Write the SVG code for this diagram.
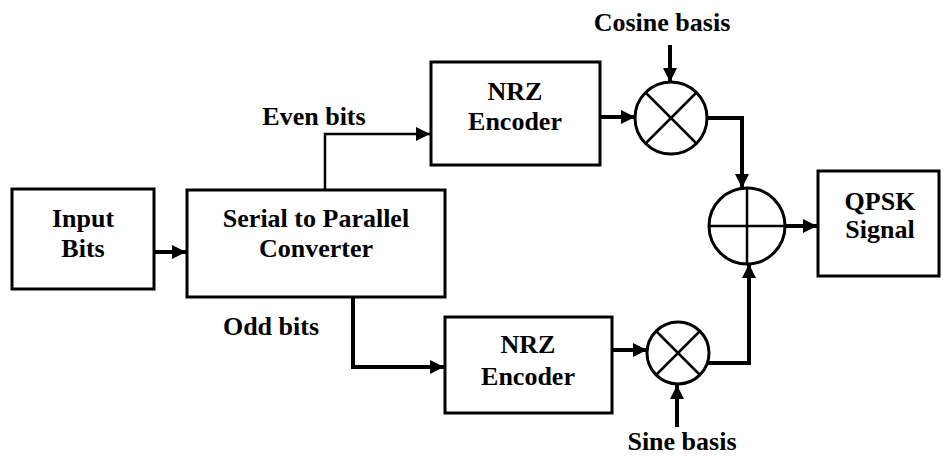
<svg xmlns="http://www.w3.org/2000/svg" width="943" height="469" viewBox="0 0 943 469">
<style>
.box{fill:#fff;stroke:#000;stroke-width:3}
.t{font-weight:700;font-size:26px;text-anchor:middle;fill:#000}
.thin{fill:none;stroke:#000;stroke-width:2.5}
.thick{fill:none;stroke:#000;stroke-width:4}
.sym{fill:#fff;stroke:#000;stroke-width:3}
.ln{stroke:#000;stroke-width:2.5}
</style>
<defs>
<marker id="ah" viewBox="0 0 10 10" refX="10" refY="5" markerWidth="14" markerHeight="14" markerUnits="userSpaceOnUse" orient="auto">
<path d="M0,0 L10,5 L0,10 Z" fill="#000"/>
</marker>
</defs>
<g id="connectors">
<path class="thick" d="M154,252 H186" marker-end="url(#ah)"/>
<path class="thin" d="M325,190 V134 H430" marker-end="url(#ah)"/>
<path class="thick" d="M353,297 V367 H444" marker-end="url(#ah)"/>
<path class="thick" d="M600,117 H635" marker-end="url(#ah)"/>
<path class="thick" d="M612,350 H647" marker-end="url(#ah)"/>
<path class="thick" d="M670,45 V82" marker-end="url(#ah)"/>
<path class="thick" d="M677,427 V385" marker-end="url(#ah)"/>
<path class="thick" d="M707,118 H742 V188" marker-end="url(#ah)"/>
<path class="thick" d="M708,363 H749 V264" marker-end="url(#ah)"/>
<path class="thick" d="M785,226 H817" marker-end="url(#ah)"/>
</g>
<g font-family="Liberation Serif, serif">
<g id="input-bits">
<rect class="box" x="12" y="189" width="142" height="100"/>
<text class="t" x="83" y="227">Input</text>
<text class="t" x="83" y="257">Bits</text>
</g>
<g id="serial-to-parallel">
<rect class="box" x="187" y="190" width="258" height="107"/>
<text class="t" x="316" y="227">Serial to Parallel</text>
<text class="t" x="316" y="257">Converter</text>
</g>
<g id="even-bits-label"><text class="t" x="314" y="125">Even bits</text></g>
<g id="odd-bits-label"><text class="t" x="271" y="335">Odd bits</text></g>
<g id="nrz-upper">
<rect class="box" x="431" y="62" width="169" height="103"/>
<text class="t" x="515" y="100">NRZ</text>
<text class="t" x="515" y="130">Encoder</text>
</g>
<g id="nrz-lower">
<rect class="box" x="445" y="317" width="167" height="96"/>
<text class="t" x="528" y="353">NRZ</text>
<text class="t" x="528" y="385">Encoder</text>
</g>
<g id="mult-cos">
<circle class="sym" cx="671" cy="118" r="36"/>
<line class="ln" x1="645.5" y1="92.5" x2="696.5" y2="143.5"/>
<line class="ln" x1="696.5" y1="92.5" x2="645.5" y2="143.5"/>
</g>
<g id="cosine-label"><text class="t" x="662" y="31">Cosine basis</text></g>
<g id="mult-sin">
<circle class="sym" cx="678" cy="353" r="31"/>
<line class="ln" x1="656" y1="331" x2="700" y2="375"/>
<line class="ln" x1="700" y1="331" x2="656" y2="375"/>
</g>
<g id="sine-label"><text class="t" x="682" y="450">Sine basis</text></g>
<g id="adder">
<circle class="sym" cx="747" cy="226" r="38"/>
<line class="ln" x1="709" y1="226" x2="785" y2="226"/>
<line class="ln" x1="747" y1="188" x2="747" y2="264"/>
</g>
<g id="qpsk">
<rect class="box" x="818" y="171" width="121" height="105"/>
<text class="t" x="880" y="210">QPSK</text>
<text class="t" x="880" y="238">Signal</text>
</g>
</g>
</svg>
